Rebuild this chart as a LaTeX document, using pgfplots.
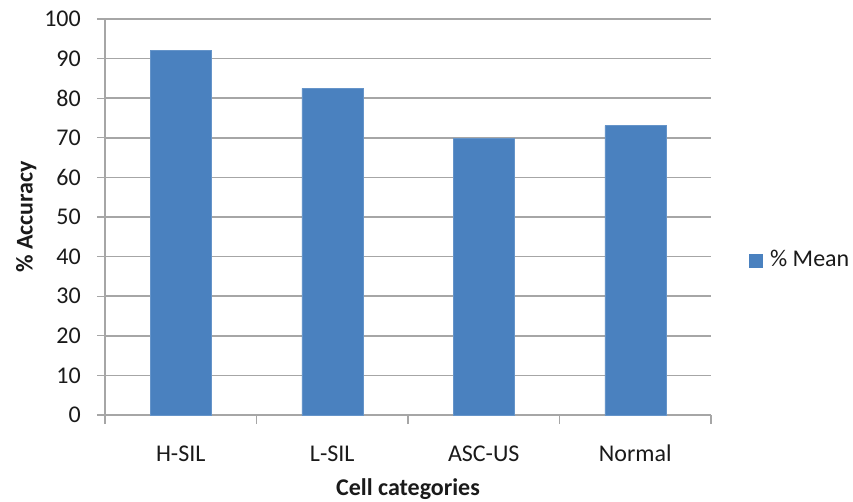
\documentclass[border=0pt]{standalone}
\usepackage{fontspec}
\setmainfont{Carlito}
\usepackage{pgfplots}
\pgfplotsset{compat=1.18}
\definecolor{barblue}{HTML}{4A81BF}
\definecolor{gridgray}{HTML}{A6A6A6}
\definecolor{txt}{HTML}{1A1A1A}
\begin{document}
\fontsize{24bp}{28bp}\selectfont
\begin{tikzpicture}
\useasboundingbox (-105bp,-87bp) rectangle (748bp,415bp);
\begin{axis}[
  at={(0,0)}, anchor=south west,
  scale only axis,
  width=606bp, height=396bp,
  xmin=-0.5, xmax=3.5,
  ymin=0, ymax=100,
  ytick={0,10,...,100},
  xtick={0,1,2,3},
  xticklabels={H-SIL,L-SIL,ASC-US,Normal},
  minor xtick={-0.5,0.5,1.5,2.5,3.5},
  major x tick style={draw=none},
  minor tick length=9bp,
  major tick length=8bp,
  tick align=outside,
  axis x line*=bottom,
  axis y line*=left,
  axis line style={draw=gridgray, line width=1.2bp},
  every tick/.style={draw=gridgray, line width=1.2bp},
  ymajorgrids,
  grid style={draw=gridgray, line width=1.5bp},
  /pgf/number format/assume math mode=true,
  ticklabel style={font=\fontsize{24bp}{28bp}\selectfont, text=txt},
  yticklabel style={xshift=-8bp},
  xticklabel style={anchor=north, text height=16bp, text depth=5bp, yshift=-14bp},
  xlabel={\textbf{Cell categories}},
  ylabel={\textbf{\% Accuracy}},
  label style={font=\fontsize{24bp}{28bp}\selectfont, text=txt},
  xlabel style={at={(axis description cs:0.5,0)}, anchor=center, yshift=-75bp, text height=16bp, text depth=5bp},
  ylabel style={at={(axis description cs:-0.1287,0.5)}, anchor=center, text height=16bp, text depth=5bp},
  legend style={at={(rel axis cs:1.062,0.39)}, anchor=west, draw=none, fill=none,
    font=\fontsize{24bp}{28bp}\selectfont, text=txt, inner sep=0pt},
  legend image code/.code={\fill[barblue] (0bp,-6.5bp) rectangle (13bp,6.5bp);},
  clip=false,
]
\addplot[ybar, bar width=61bp, fill=barblue, draw=barblue!85!white] coordinates {
  (0,92.0) (1,82.5) (2,69.9) (3,73.1)
};
\addlegendentry{\hspace{6bp}\% Mean}
\end{axis}
\end{tikzpicture}
\end{document}
